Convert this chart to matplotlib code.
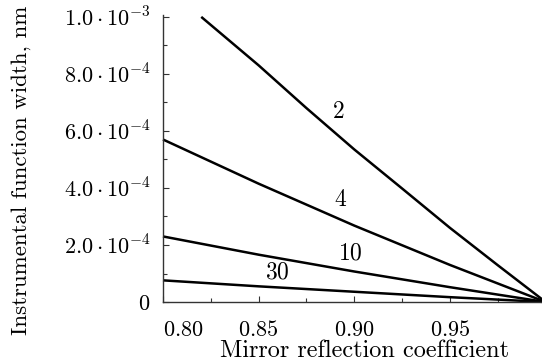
import matplotlib
matplotlib.use("Agg")
import matplotlib.pyplot as plt
from matplotlib.ticker import MultipleLocator

plt.rcParams["mathtext.fontset"] = "cm"
plt.rcParams["font.family"] = ["cmr10", "DejaVu Serif"]
plt.rcParams["axes.formatter.use_mathtext"] = True

# Mirror reflection coefficient points and instrumental width (nm) per curve
r_2 = [0.82, 0.85, 0.875, 0.90, 0.925, 0.95, 0.975, 1.00]
w_2 = [10.0e-4, 8.3e-4, 6.8e-4, 5.35e-4, 3.98e-4, 2.6e-4, 1.29e-4, 0.0]
r_all = [0.80, 0.85, 0.90, 0.95, 1.00]
w_4 = [5.7e-4, 4.15e-4, 2.68e-4, 1.3e-4, 0.0]
w_10 = [2.3e-4, 1.66e-4, 1.07e-4, 0.52e-4, 0.0]
w_30 = [0.76e-4, 0.55e-4, 0.36e-4, 0.17e-4, 0.0]

curve_labels = ["2", "4", "10", "30"]
label_pos = [(0.8916, 6.67e-4), (0.8927, 3.58e-4), (0.898, 1.72e-4), (0.860, 1.05e-4)]

y_ticks = [0, 2e-4, 4e-4, 6e-4, 8e-4, 1e-3]
y_ticklabels = ["$0$", r"$2.0\cdot10^{-4}$", r"$4.0\cdot10^{-4}$",
                r"$6.0\cdot10^{-4}$", r"$8.0\cdot10^{-4}$", r"$1.0\cdot10^{-3}$"]
x_ticks = [0.80, 0.85, 0.90, 0.95, 1.00]
x_ticklabels = ["$0.80$", "$0.85$", "$0.90$", "$0.95$", "$1$"]

fig = plt.figure(figsize=(5.42, 3.63), dpi=100)
ax = fig.add_axes([0.3007, 0.168, 0.706, 0.791])

for r, w in [(r_2, w_2), (r_all, w_4), (r_all, w_10), (r_all, w_30)]:
    ax.plot(r, w, color="black", lw=1.8, clip_on=False, solid_capstyle="butt")

for txt, (x, y) in zip(curve_labels, label_pos):
    ax.text(x, y, f"${txt}$", fontsize=17, ha="center", va="center")

ax.set_xlim(0.80, 1.00)
ax.set_ylim(0, 1.007e-3)
ax.set_yticks(y_ticks)
ax.set_yticklabels(y_ticklabels, fontsize=16)
ax.set_xticks(x_ticks)
ax.set_xticklabels(x_ticklabels, fontsize=16)
ax.get_xticklabels()[0].set_horizontalalignment("left")
ax.xaxis.set_minor_locator(MultipleLocator(0.025))
ax.yaxis.set_minor_locator(MultipleLocator(1e-4))
ax.tick_params(which="both", direction="in", color="#333333")
ax.tick_params(which="major", length=4, width=0.8)
ax.tick_params(which="minor", length=3, width=0.8)
ax.tick_params(axis="x", pad=13)
ax.tick_params(axis="y", pad=9)

for side in ["top", "right"]:
    ax.spines[side].set_visible(False)
for side in ["left", "bottom"]:
    ax.spines[side].set_color("#333333")
    ax.spines[side].set_linewidth(1.0)

ax.set_xlabel("Mirror reflection coefficient", fontsize=17.5, va="center")
ax.xaxis.set_label_coords(0.527, -0.172)
ax.set_ylabel("Instrumental function width, nm", fontsize=16.5, va="center")
ax.yaxis.set_label_coords(-0.372, 0.46)

fig.savefig("out.png", dpi=100)
